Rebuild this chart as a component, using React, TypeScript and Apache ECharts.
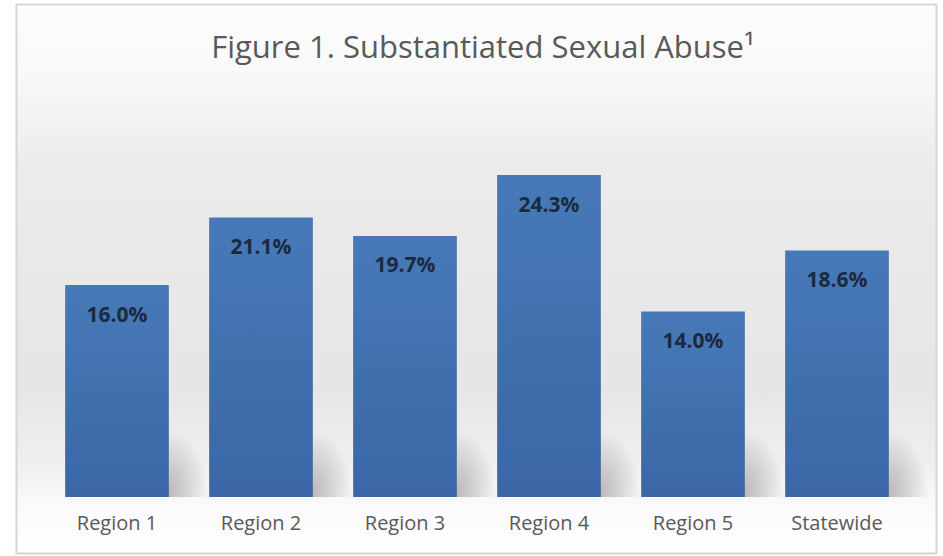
import React, { useEffect, useRef } from "react";
import * as echarts from "echarts";

const categories = ["Region 1", "Region 2", "Region 3", "Region 4", "Region 5", "Statewide"];
const values = [16.0, 21.1, 19.7, 24.3, 14.0, 18.6];
const titleText = "Figure 1. Substantiated Sexual Abuse\u00B9";

export default function App() {
  const ref = useRef<HTMLDivElement>(null);
  useEffect(() => {
    document.body.style.margin = "0";
    const chart = echarts.init(ref.current!, null, { renderer: "svg" });
    chart.setOption({
      animation: false,
      backgroundColor: "#ffffff",
      title: {
        text: titleText,
        left: 478,
        textAlign: "center",
        top: 25,
        textStyle: { fontFamily: "Open Sans", fontSize: 31, fontWeight: "normal", color: "#595959" },
      },
      graphic: [
        {
          type: "rect",
          z: 0,
          shape: { x: 16.5, y: 4.5, width: 920, height: 549 },
          style: {
            stroke: "#d6d6d6",
            lineWidth: 2,
            fill: new echarts.graphic.LinearGradient(0, 0, 0, 1, [
              { offset: 0, color: "#fdfdfd" },
              { offset: 0.15, color: "#f7f7f7" },
              { offset: 0.3, color: "#ebebeb" },
              { offset: 0.7, color: "#e6e6e6" },
              { offset: 0.84, color: "#efefef" },
              { offset: 0.92, color: "#fbfbfb" },
              { offset: 1, color: "#ffffff" },
            ]),
          },
        },
      ],
      grid: { left: 45, right: 34, top: 99.5, bottom: 59 },
      xAxis: {
        type: "category",
        data: categories,
        axisLine: { show: false },
        axisTick: { show: false },
        axisLabel: { fontFamily: "Open Sans", fontSize: 20, color: "#595959", margin: 15 },
      },
      yAxis: { type: "value", min: 0, max: 30, show: false, splitLine: { show: false } },
      series: [
        {
          type: "custom",
          z: 1,
          data: values.map((v, i) => [i, v]),
          renderItem: (params: any, api: any) => {
            const base = api.coord([api.value(0), 0]);
            const band = api.size([1, 0])[0];
            const barW = band * 0.72;
            const x = base[0] + barW / 2 - 4;
            return {
              type: "rect",
              shape: { x: x, y: base[1] - 66, width: 44, height: 66 },
              style: {
                fill: new echarts.graphic.RadialGradient(0.05, 0.95, 0.95, [
                  { offset: 0, color: "rgba(80,80,80,0.38)" },
                  { offset: 0.5, color: "rgba(80,80,80,0.2)" },
                  { offset: 1, color: "rgba(80,80,80,0)" },
                ]),
              },
            };
          },
          silent: true,
        },
        {
          type: "bar",
          z: 2,
          data: values,
          barCategoryGap: "28%",
          itemStyle: {
            color: new echarts.graphic.LinearGradient(0, 0, 0, 1, [
              { offset: 0, color: "#4779b9" },
              { offset: 1, color: "#3b67a5" },
            ]),
          },
          label: {
            show: true,
            position: "insideTop",
            distance: 18,
            formatter: (p: any) => p.value.toFixed(1) + "%",
            fontFamily: "Open Sans",
            fontSize: 21,
            fontWeight: "bold",
            color: "#1c2a3d",
          },
        },
      ],
    });
    return () => chart.dispose();
  }, []);
  return <div ref={ref} style={{ width: 943, height: 556 }} />;
}
